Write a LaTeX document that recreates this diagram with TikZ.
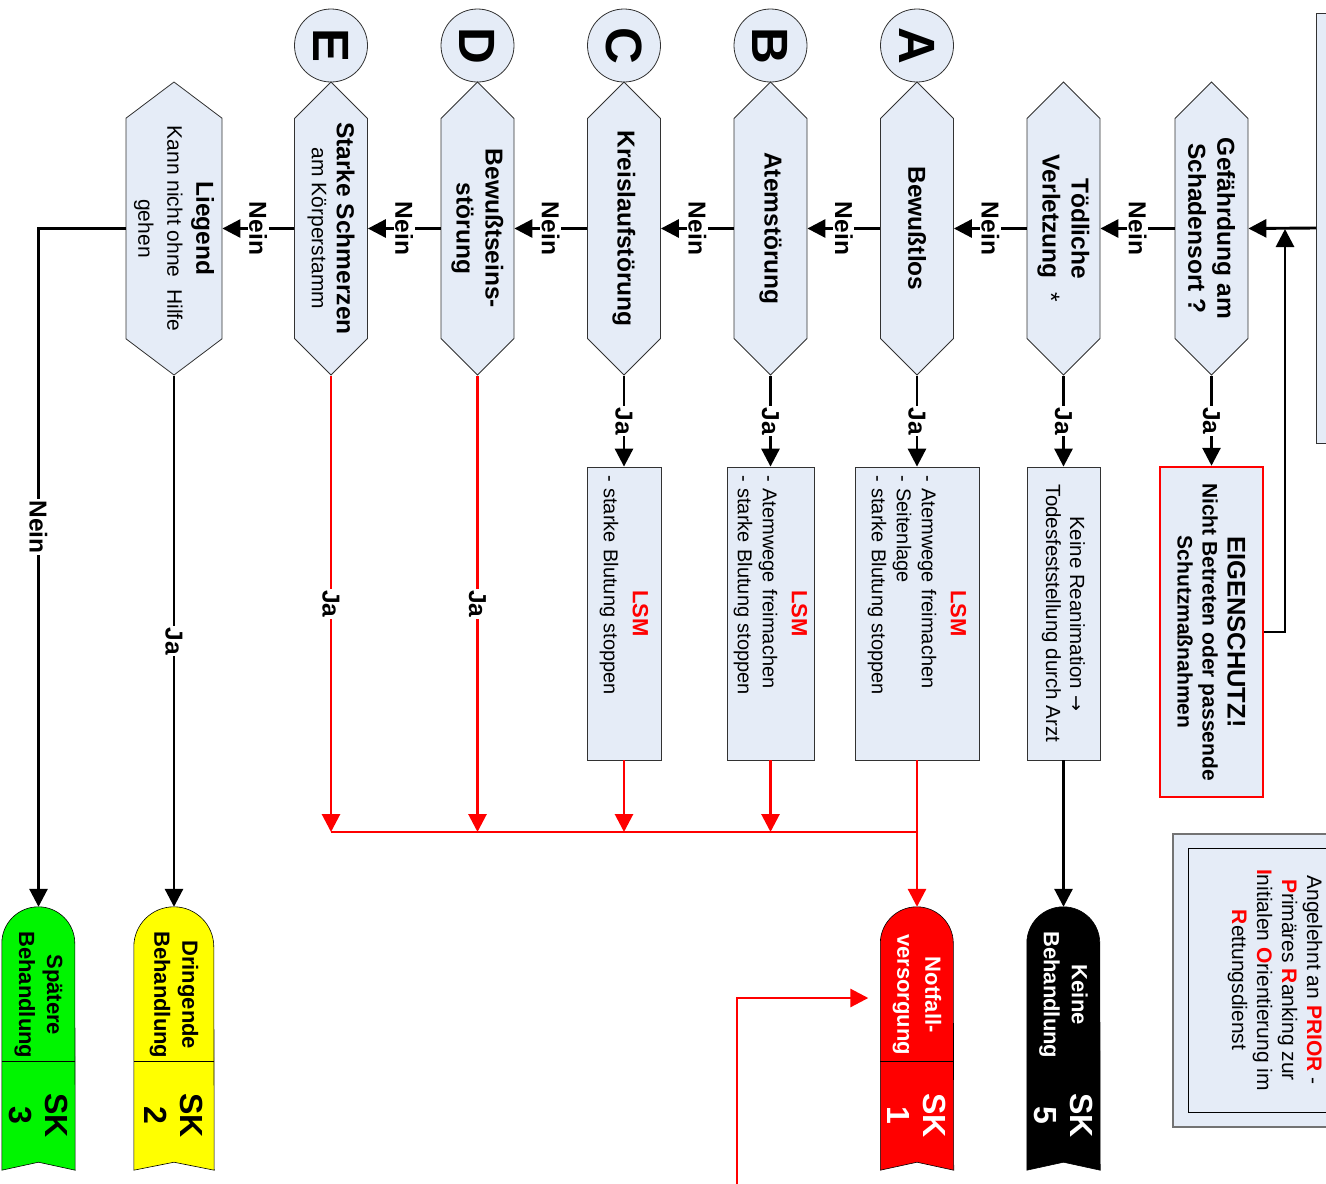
\documentclass[tikz,border=0pt]{standalone}
\usepackage{fontspec}
\setmainfont{Liberation Sans}
\newfontfamily\symfont{DejaVu Sans}
\usetikzlibrary{arrows.meta}
\usetikzlibrary{shapes.symbols}
\definecolor{paleblue}{RGB}{229, 236, 247}
\definecolor{framegray}{RGB}{50, 50, 50}
\definecolor{skgreen}{RGB}{0, 245, 0}
\definecolor{skyellow}{RGB}{255, 255, 0}

% SK tag: name, x, half width, fill, text colour, label, number
\newcommand{\sktag}[7]{%
  \node[tagbase, minimum width=2*#3pt] (#1) at (#2,1038.5) {};
  \filldraw[fill=#4, draw=black, line width=0.6pt]
    ([yshift=-#3pt]#1.north west) arc[start angle=180, end angle=0, radius=#3pt]
    -- (#1.south east) -- ([yshift=8pt]#1.south) -- (#1.south west) -- cycle;
  \draw[line width=0.6pt] ([yshift=-154pt]#1.north west) -- ([yshift=-154pt]#1.north east);
  \node[tagtext, text=#5] (#1-txt) at ([yshift=-88pt]#1.north) {#6};
  \node[sknum, text=#5] (#1-num) at ([yshift=-209pt]#1.north) {SK\\#7};
}

\begin{document}
\begin{tikzpicture}[x=1pt, y=-1pt,
    quest/.style = {signal, signal to=east and west, signal pointer angle=90,
        draw=framegray, line width=0.8pt, fill=paleblue, rotate=-90,
        minimum width=293pt, minimum height=73pt, inner sep=1pt,
        align=center, font=\fontsize{24.5}{29}\selectfont\bfseries},
    letter/.style = {circle, draw=framegray, line width=0.8pt, fill=paleblue, rotate=-90,
        minimum size=73pt, inner sep=0pt, font=\fontsize{51}{51}\selectfont\bfseries},
    infobox/.style = {rectangle, draw=framegray, line width=0.8pt, fill=paleblue, rotate=-90,
        minimum width=293pt, inner xsep=8pt, inner ysep=2pt},
    lsm/.style = {infobox, text width=277pt, align=left, font=\fontsize{20}{25}\selectfont},
    lbl/.style = {fill=white, rotate=-90, inner sep=1.5pt, font=\fontsize{24.5}{29}\selectfont\bfseries},
    conn/.style = {line width=2.9pt, -{Triangle[length=18pt, width=18pt]}},
    redconn/.style = {conn, draw=red},
    tagbase/.style = {rectangle, minimum height=263pt, inner sep=0pt},
    tagtext/.style = {rotate=-90, align=center, font=\fontsize{22}{28}\selectfont\bfseries},
    sknum/.style = {rotate=-90, align=center, font=\fontsize{32}{36}\selectfont\bfseries},
]
\useasboundingbox (0,0) rectangle (1326,1184);

% boxes on the right
\node[draw=framegray, line width=0.8pt, fill=paleblue, minimum width=200pt, minimum height=430pt, anchor=west] (start) at (1316,228) {};
\node[draw=black!55, line width=1.5pt, fill=paleblue, minimum width=204pt, minimum height=293pt] (legbg) at (1275,980.5) {};
\node[draw=black, line width=0.8pt, fill=paleblue, rotate=-90, minimum width=264pt, minimum height=174pt,
      align=center, font=\fontsize{21}{25}\selectfont] (legend) at (1275,980)
    {Angelehnt an \textcolor{red}{\bfseries PRIOR} -\\
     \textcolor{red}{\bfseries P}rimäres \textcolor{red}{\bfseries R}anking zur\\
     \textcolor{red}{\bfseries I}nitialen \textcolor{red}{\bfseries O}rientierung im\\
     \textcolor{red}{\bfseries R}ettungsdienst};

% letters
\node[letter] (cA) at (917,45.5) {A};
\node[letter] (cB) at (770.5,45.5) {B};
\node[letter] (cC) at (624,45.5) {C};
\node[letter] (cD) at (477.5,45.5) {D};
\node[letter] (cE) at (331,45.5) {E};

% questions
\node[quest] (gef) at (1211.5,228.5) {Gefährdung am\\Schadensort ?};
\node[quest] (toed) at (1063.5,228.5) {Tödliche\\Verletzung~~{\mdseries *}};
\node[quest] (bewl) at (917,228.5) {Bewußtlos};
\node[quest] (atem) at (770.5,228.5) {Atemstörung};
\node[quest] (kreis) at (624,228.5) {Kreislaufstörung};
\node[quest] (bews) at (477.5,228.5) {Bewußtseins-\\störung};
\node[quest] (schmerz) at (331,228.5) {Starke Schmerzen\\[-4pt]{\fontsize{21}{25}\selectfont\mdseries am Körperstamm}};
\node[quest, minimum height=96pt, signal pointer angle=106] (lieg) at (174,228.5)
    {Liegend\\{\fontsize{21}{25}\selectfont\mdseries Kann nicht ohne~ Hilfe}\\{\fontsize{21}{25}\selectfont\mdseries gehen}};

% answers
\node[infobox, draw=red, line width=2.5pt, minimum width=330pt, minimum height=103pt, align=center,
      font=\fontsize{21}{25}\selectfont\bfseries] (eig) at (1211.5,632)
    {{\fontsize{25.5}{30}\selectfont EIGENSCHUTZ!}\\ Nicht Betreten oder passende\\ Schutzmaßnahmen};
\node[infobox, minimum height=73pt, align=center, font=\fontsize{20.5}{24}\selectfont] (keine) at (1063.5,613.5)
    {Keine Reanimation {\symfont\fontsize{19}{24}\selectfont →}\\Todesfeststellung durch Arzt};
\node[lsm, minimum height=124pt] (lsmA) at (917,613.5)
    {\makebox[277pt]{\textcolor{red}{\fontsize{22}{26}\selectfont\bfseries LSM}}\\[4pt]
     - Atemwege freimachen\\ - Seitenlage\\ - starke Blutung stoppen};
\node[lsm, minimum height=87pt] (lsmB) at (770.5,613.5)
    {\makebox[277pt]{\textcolor{red}{\fontsize{22}{26}\selectfont\bfseries LSM}}\\[4pt]
     - Atemwege freimachen\\ - starke Blutung stoppen};
\node[lsm, minimum height=74pt] (lsmC) at (624,613.5)
    {\makebox[277pt]{\textcolor{red}{\fontsize{22}{26}\selectfont\bfseries LSM}}\\[4pt]
     - starke Blutung stoppen};

% tags
\sktag{sk5}{1063.5}{36.5}{black}{white}{Keine\\Behandlung}{5}
\sktag{sk1}{917}{36.5}{red}{white}{Notfall-\\versorgung}{1}
\sktag{sk2}{174}{40}{skyellow}{black}{Dringende\\Behandlung}{2}
\sktag{sk3}{38.5}{36.5}{skgreen}{black}{Spätere\\Behandlung}{3}

% main chain
\draw[conn] (start.west) -- (gef.north);
\draw[conn] (gef.south) -- node[lbl] {Nein} (toed.north);
\draw[conn] (toed.south) -- node[lbl] {Nein} (bewl.north);
\draw[conn] (bewl.south) -- node[lbl] {Nein} (atem.north);
\draw[conn] (atem.south) -- node[lbl] {Nein} (kreis.north);
\draw[conn] (kreis.south) -- node[lbl] {Nein} (bews.north);
\draw[conn] (bews.south) -- node[lbl] {Nein} (schmerz.north);
\draw[conn] (schmerz.south) -- node[lbl] {Nein} (lieg.north);

\draw[conn] (gef.east) -- node[lbl] {Ja} (eig.west);
\draw[conn] (toed.east) -- node[lbl] {Ja} (keine.west);
\draw[conn] (bewl.east) -- node[lbl] {Ja} (lsmA.west);
\draw[conn] (atem.east) -- node[lbl] {Ja} (lsmB.west);
\draw[conn] (kreis.east) -- node[lbl] {Ja} (lsmC.west);

\coordinate (back) at (1285,229);
\draw[conn] (eig.north) -| (back);

% red paths
\coordinate (busE) at (331,832);
\coordinate (busA) at (917,832);
\draw[red, line width=2.9pt] (busE) -- (busA);
\draw[redconn] (schmerz.east) -- node[lbl] {Ja} (busE);
\draw[redconn] (bews.east) -- node[lbl] {Ja} (bews.east |- busE);
\draw[redconn] (lsmC.east) -- (lsmC.east |- busE);
\draw[redconn] (lsmB.east) -- (lsmB.east |- busE);
\draw[redconn] (lsmA.east) -- (sk1.north);
\coordinate (ext) at (737,1200);
\draw[redconn, shorten >=12pt] (ext) |- (sk1.west |- 0,998);

% black to tags
\draw[conn] (keine.east) -- (sk5.north);
\draw[conn] (lieg.east) -- node[lbl] {Ja} (sk2.north);
\draw[conn] (lieg.south) -| node[lbl, pos=0.72] {Nein} (sk3.north);
\end{tikzpicture}
\end{document}
